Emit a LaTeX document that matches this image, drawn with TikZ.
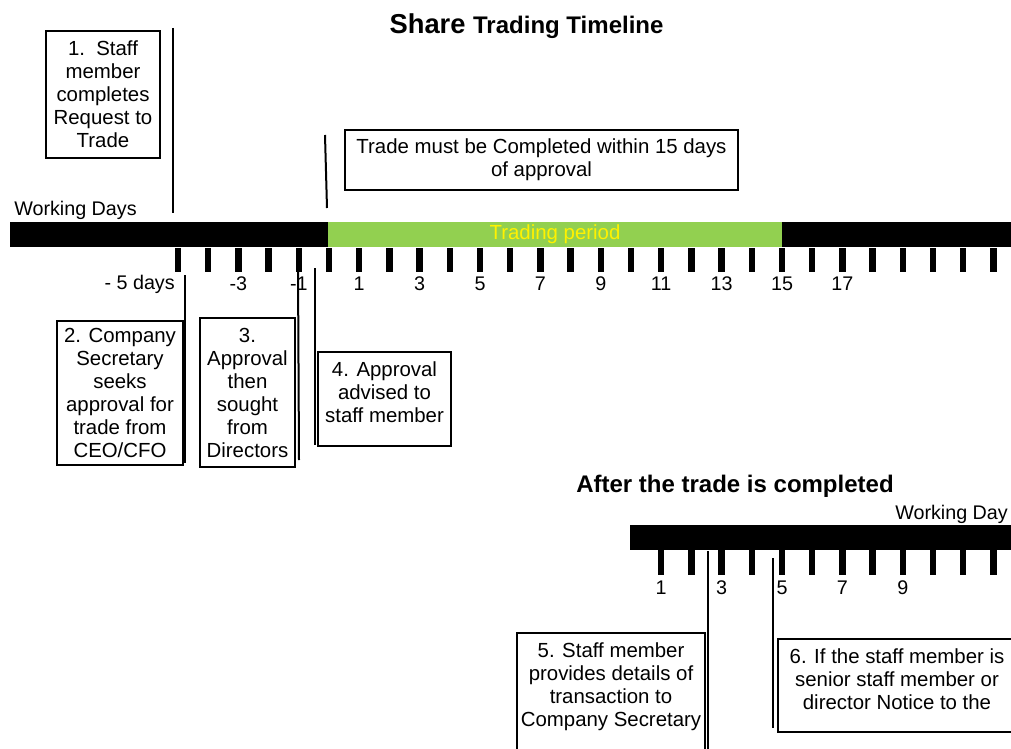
\documentclass[tikz,border=0pt]{standalone}
\usepackage{fontspec}
\setmainfont{Liberation Sans}
\definecolor{tradegreen}{RGB}{146,208,80}
\tikzset{>=latex,
  stepbox/.style={draw,line width=1.5pt,align=center,inner sep=0pt,
    font=\fontsize{15.3}{17.25}\selectfont},
  daylabel/.style={inner sep=0pt,font=\fontsize{14.8}{17}\selectfont},
  daytick/.style={line width=4.8pt}}

\begin{document}
\begin{tikzpicture}[x=0.75pt,y=-0.75pt]
\useasboundingbox (0,0) rectangle (1011,749);
\clip (0,0) rectangle (1011,749);

\node[anchor=base] (title) at (526.5,34)
  {\bfseries\fontsize{20.5}{24}\selectfont Share \fontsize{18}{22}\selectfont Trading Timeline};
\node[anchor=base] (after) at (735,492)
  {\bfseries\fontsize{18}{22}\selectfont After the trade is completed};

% the two time bars
\fill (10,222) rectangle (1011,247);
\fill[tradegreen] (328,222) rectangle (782,247);
\node[inner sep=0pt,font=\fontsize{15.3}{17}\selectfont,text=yellow] (period) at (555,234) {Trading period};
\fill (630,525) rectangle (1011,550);

\foreach \d in {-5,...,22}
  \draw[daytick] ({329+30.2*\d},248) -- ++(0,24);
\foreach \d in {1,...,12}
  \draw[daytick] ({329+30.2*(\d+10)},550) -- ++(0,25);

\node[daylabel,anchor=base west] (wdays) at (14,215) {Working Days};
\node[daylabel,anchor=base west] (wday) at (895,519) {Working Day};
\node[daylabel,anchor=east] (d5) at (175,284) {- 5 days};
\foreach \d in {-3,-1,1,3,5,7,9,11,13,15,17}
  \node[daylabel] (d\d) at ({329+30.2*\d},284) {\d};
\foreach \d in {1,3,5,7,9}
  \node[daylabel] (a\d) at ({329+30.2*(\d+10)},588) {\d};

\begin{scope}[every node/.style={stepbox}]
\node[minimum width=85.5pt,minimum height=95.25pt] (request) at (103,94.5)
  {1.\ \ Staff\\member\\completes\\Request to\\Trade};
\node[minimum width=294.75pt,minimum height=45pt] (window) at (541.5,160)
  {Trade must be Completed within 15 days\\of approval};
\node[minimum width=94.5pt,minimum height=108pt] (seek) at (120,393)
  {2. Company\\Secretary\\seeks\\approval for\\trade from\\CEO/CFO};
\node[minimum width=71.25pt,minimum height=111.75pt] (directors) at (247.5,392.5)
  {3.\\Approval\\then\\sought\\from\\Directors};
\node[anchor=north,inner ysep=7.5pt] (advise) at (384.5,351)
  {\parbox[c][55.5pt][t]{99.75pt}{\centering 4. Approval\\advised to\\staff member}};
\node[anchor=north,inner ysep=7.5pt] (details) at (611,632)
  {\parbox[c][100pt][t]{141pt}{\centering 5. Staff member\\provides details of\\transaction to\\Company Secretary}};
\node[anchor=north,inner ysep=7.5pt] (notice) at (897,638)
  {\parbox[c][54.75pt][t]{178.5pt}{\centering 6. If the staff member is\\senior staff member or\\director Notice to the}};
\end{scope}

\coordinate (m1a) at (173,28);  \coordinate (m1b) at (173,213);
\coordinate (m2a) at (325,135); \coordinate (m2b) at (327,208);
\coordinate (m3a) at (185,275); \coordinate (m3b) at (185,463);
\coordinate (m4a) at (298,268); \coordinate (m4b) at (299,460);
\coordinate (m5a) at (315,268); \coordinate (m5b) at (315,445);
\coordinate (m6a) at (708,551); \coordinate (m6b) at (708,760);
\coordinate (m7a) at (773,558); \coordinate (m7b) at (773,728);

\begin{scope}[every edge/.style={draw=black,line width=1.5pt}]
    \path (m1a) edge (m1b);
    \path (m2a) edge (m2b);
    \path (m3a) edge (m3b);
    \path (m4a) edge (m4b);
    \path (m5a) edge (m5b);
    \path (m6a) edge (m6b);
    \path (m7a) edge (m7b);
\end{scope}
\end{tikzpicture}
\end{document}
